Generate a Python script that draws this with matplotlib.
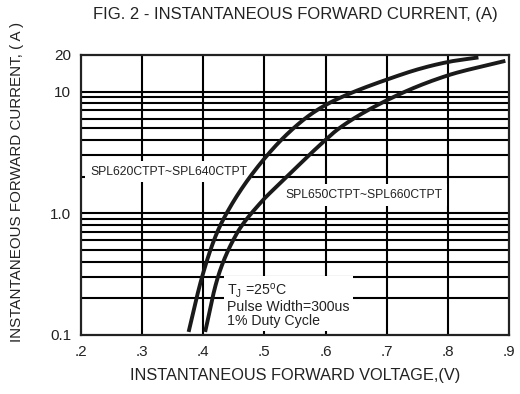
import numpy as np
import matplotlib
matplotlib.use('Agg')
import matplotlib.pyplot as plt

# ---- data ----
v_620_640 = [0.376, 0.398, 0.422, 0.445, 0.498, 0.560, 0.600, 0.701, 0.802, 0.850]
i_620_640 = [0.106, 0.30, 0.685, 1.15, 2.74, 5.66, 7.76, 12.6, 17.6, 19.1]

v_650_660 = [0.403, 0.424, 0.455, 0.498, 0.526, 0.602, 0.620, 0.701, 0.802, 0.894]
i_650_660 = [0.106, 0.30, 0.685, 1.29, 1.77, 4.1, 4.9, 8.53, 13.7, 17.9]

x_ticks = [0.2, 0.3, 0.4, 0.5, 0.6, 0.7, 0.8, 0.9]
x_labels = ['.2', '.3', '.4', '.5', '.6', '.7', '.8', '.9']
y_ticks = [0.1, 1.0, 10, 20]
y_labels = ['0.1', '1.0', '10', '20']
grid_y = [0.2, 0.3, 0.4, 0.5, 0.6, 0.7, 0.8, 0.9, 1, 2, 3, 4, 5, 6, 7, 8, 9, 10]
grid_x = [0.3, 0.4, 0.5, 0.6, 0.7, 0.8]

plt.rcParams['font.family'] = ['Liberation Sans', 'DejaVu Sans']
plt.rcParams['mathtext.fontset'] = 'custom'
plt.rcParams['mathtext.rm'] = 'Liberation Sans'


def pchip(x, y, xs):
    x = np.asarray(x, float); y = np.asarray(y, float)
    h = np.diff(x); d = np.diff(y) / h
    n = len(x); m = np.zeros(n)
    for k in range(1, n - 1):
        if d[k - 1] * d[k] > 0:
            w1 = 2 * h[k] + h[k - 1]; w2 = h[k] + 2 * h[k - 1]
            m[k] = (w1 + w2) / (w1 / d[k - 1] + w2 / d[k])
    m[0] = d[0]; m[-1] = d[-1]
    idx = np.clip(np.searchsorted(x, xs) - 1, 0, n - 2)
    t = (xs - x[idx]) / h[idx]
    h00 = 2 * t**3 - 3 * t**2 + 1; h10 = t**3 - 2 * t**2 + t
    h01 = -2 * t**3 + 3 * t**2; h11 = t**3 - t**2
    return h00 * y[idx] + h10 * h[idx] * m[idx] + h01 * y[idx + 1] + h11 * h[idx] * m[idx + 1]


fig = plt.figure(figsize=(5.2, 3.94), dpi=100)
ax = fig.add_axes([81 / 520, 1 - 335 / 394, 428 / 520, 280 / 394])
ax.set_yscale('log')
ax.set_xlim(0.2, 0.9)
ax.set_ylim(0.1, 20)

for gy in grid_y:
    ax.axhline(gy, color='black', lw=1.5, zorder=1)
for gx in grid_x:
    ax.axvline(gx, color='black', lw=1.5, zorder=1)

for v, i in [(v_620_640, i_620_640), (v_650_660, i_650_660)]:
    # draw the read points as a smooth curve (log-current space)
    ys = np.linspace(np.log10(i[0]), np.log10(i[-1]), 300)
    xs = pchip(np.log10(i), v, ys)
    ax.plot(xs, 10**ys, color='#1a1a1a', lw=2.8, zorder=4, solid_capstyle='butt')

for s in ax.spines.values():
    s.set_linewidth(1.6)
    s.set_color('#222222')

ax.set_xticks(x_ticks)
ax.set_xticklabels(x_labels)
ax.set_yticks(y_ticks)
ax.set_yticklabels(y_labels)
ax.yaxis.set_minor_locator(matplotlib.ticker.NullLocator())
ax.tick_params(length=0, labelsize=11, colors='#222222')
ax.tick_params(axis='x', pad=7)
ax.tick_params(axis='y', pad=7)

box = dict(facecolor='white', edgecolor='none', pad=3.5)
ax.text(0.2147, 2.2, 'SPL620CTPT~SPL640CTPT', fontsize=8.7, color='#222222',
        ha='left', va='center', bbox=box, zorder=3)
ax.text(0.534, 1.41, 'SPL650CTPT~SPL660CTPT', fontsize=8.7, color='#222222',
        ha='left', va='center', bbox=box, zorder=3)
ax.text(0.4395, 0.178, 'T$_\\mathrm{J}$ =25$^\\mathrm{o}$C\nPulse Width=300us\n1% Duty Cycle',
        fontsize=10.2, color='#222222', ha='left', va='center', linespacing=1.0,
        bbox=dict(facecolor='white', edgecolor='none', pad=2.5), zorder=3)

fig.text(295 / 520, 1 - 15 / 394, 'FIG. 2 - INSTANTANEOUS FORWARD CURRENT, (A)',
         fontsize=12, color='#222222', ha='center', va='center')
ax.set_xlabel('INSTANTANEOUS FORWARD VOLTAGE,(V)', fontsize=11.8, color='#222222', labelpad=7)
fig.text(17 / 520, 1 - 182 / 394, 'INSTANTANEOUS FORWARD CURRENT, ( A )',
         fontsize=10.9, color='#222222', ha='center', va='center', rotation=90)

fig.savefig('out.png', dpi=100)
